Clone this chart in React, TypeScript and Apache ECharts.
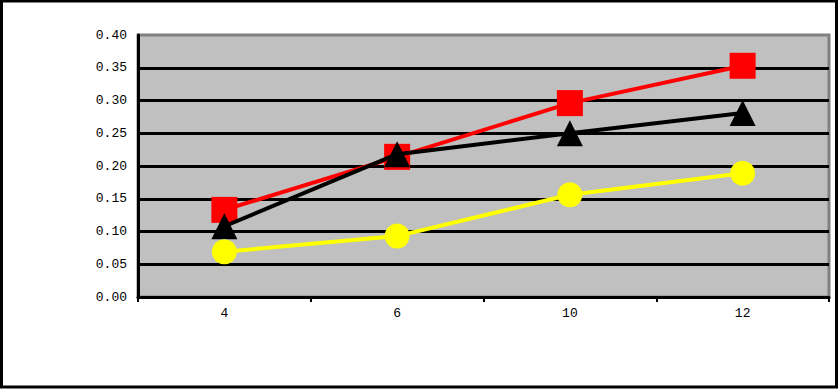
import React, { useEffect, useRef } from "react";
import * as echarts from "echarts";

const categories = ["4", "6", "10", "12"];
const redValues = [0.133, 0.214, 0.296, 0.353];
const blackValues = [0.108, 0.218, 0.25, 0.281];
const yellowValues = [0.069, 0.093, 0.156, 0.189];

export default function App() {
  const ref = useRef<HTMLDivElement>(null);
  useEffect(() => {
    document.body.style.margin = "0";
    const chart = echarts.init(ref.current!, null, { renderer: "svg" });
    const font = "'Liberation Mono', 'DejaVu Sans Mono', monospace";
    chart.setOption({
      animation: false,
      backgroundColor: "#ffffff",
      grid: {
        left: 138,
        top: 35,
        width: 691,
        height: 262,
        show: true,
        backgroundColor: "#c0c0c0",
        borderColor: "#808080",
        borderWidth: 3,
      },
      xAxis: {
        type: "category",
        data: categories,
        boundaryGap: true,
        axisLine: { show: true, lineStyle: { color: "#000", width: 3 } },
        axisTick: { show: true, interval: 0, length: 5, lineStyle: { color: "#000", width: 2 } },
        axisLabel: { color: "#000", fontFamily: font, fontSize: 13, margin: 10 },
        splitLine: { show: false },
      },
      yAxis: {
        type: "value",
        min: 0,
        max: 0.4,
        interval: 0.05,
        axisLine: { show: true, lineStyle: { color: "#000", width: 3 } },
        axisTick: { show: false },
        axisLabel: {
          color: "#000",
          fontFamily: font,
          fontSize: 13,
          margin: 11,
          formatter: (v: number) => v.toFixed(2),
        },
        splitLine: {
          show: true,
          lineStyle: {
            color: ["#000", "#000", "#000", "#000", "#000", "#000", "#000", "#000", "rgba(0,0,0,0)"],
            width: 3,
          },
        },
      },
      series: [
        {
          type: "line",
          data: redValues,
          symbol: "rect",
          symbolSize: 26,
          lineStyle: { color: "#ff0000", width: 4 },
          itemStyle: { color: "#ff0000" },
          z: 2,
        },
        {
          type: "line",
          data: blackValues,
          symbol: "triangle",
          symbolSize: 26,
          lineStyle: { color: "#000000", width: 4 },
          itemStyle: { color: "#000000" },
          z: 3,
        },
        {
          type: "line",
          data: yellowValues,
          symbol: "circle",
          symbolSize: 25,
          lineStyle: { color: "#ffff00", width: 4 },
          itemStyle: { color: "#ffff00" },
          z: 4,
        },
      ],
      graphic: [
        {
          type: "rect",
          shape: { x: 1.5, y: 1, width: 835, height: 386 },
          style: { fill: "none", stroke: "#000", lineWidth: 3 },
          silent: true,
          z: 100,
        },
      ],
    });
    return () => chart.dispose();
  }, []);
  return <div ref={ref} style={{ width: 839, height: 389 }} />;
}
